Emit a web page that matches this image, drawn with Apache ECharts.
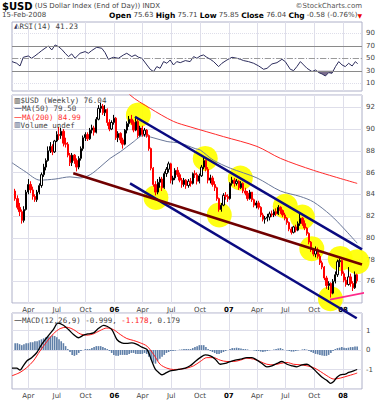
<!DOCTYPE html>
<html><head><meta charset="utf-8">
<script src="https://cdn.jsdelivr.net/npm/echarts@6/dist/echarts.min.js"></script>
<style>html,body{margin:0;padding:0;background:#fff}#c{width:385px;height:400px}</style>
</head><body><div id="c"></div>
<script>
// x = weeks since Fri 18-Feb-2005 (week 156 = 15-Feb-2008)
const tickWeeks = [6, 19, 32.14, 45.29, 58.14, 71.14, 84.29, 97.43, 110.29, 123.29, 136.43, 149.57];
const tickLabels = ['Apr','Jul','Oct','06','Apr','Jul','Oct','07','Apr','Jul','Oct','08'];

const priceOpen = [84.3,83.6,82.8,82.4,81.6,82.6,84.2,84.9,84.4,83.8,
83.5,84.2,84.8,85.8,86.5,87.1,88.0,88.4,87.9,88.9,
89.5,89.4,89.8,88.7,88.6,87.6,86.9,87.6,87.1,86.5,
87.3,88.2,89.2,89.5,89.1,89.9,90.1,89.7,90.9,91.9,
92.1,91.5,91.8,90.6,90.0,90.6,91.0,89.2,89.6,89.0,
88.6,89.9,90.5,90.9,90.6,89.9,90.7,89.4,90.1,89.5,
89.9,89.4,88.2,86.4,84.9,84.2,85.1,85.4,84.6,85.9,
86.3,86.8,85.3,85.5,86.2,85.8,85.3,84.9,85.3,84.8,
85.2,85.0,85.9,85.8,85.2,85.7,86.5,87.1,86.3,85.3,
85.5,84.9,84.6,83.6,82.6,83.0,83.9,83.8,83.6,85.0,
85.3,85.0,85.2,84.6,85.0,84.3,84.1,83.6,84.2,83.5,
83.0,83.2,82.8,82.1,81.7,81.8,81.9,82.2,82.1,82.4,
82.2,82.8,82.5,82.1,81.8,81.4,80.8,80.5,81.0,80.7,
81.3,81.8,81.3,80.9,80.4,79.6,78.9,78.5,78.9,78.3,
77.7,77.3,76.3,75.6,75.8,74.9,76.0,76.6,77.8,77.9,
76.7,76.1,75.7,76.4,75.8,75.4,76.6];
const priceHigh = [84.5,83.9,83.2,82.6,82.9,84.4,85.4,85.2,84.7,84.0,
84.4,85.0,86.0,86.8,87.3,88.4,88.8,88.6,89.0,89.8,
90.2,90.1,90.0,89.2,88.8,87.8,87.8,87.7,87.3,87.5,
88.4,89.4,89.7,89.7,90.1,90.4,90.3,91.1,92.2,92.4,
92.3,92.2,91.9,90.9,90.8,91.3,91.1,89.8,89.7,89.2,
90.0,90.7,91.2,91.3,90.8,91.0,90.9,90.3,90.3,90.1,
90.0,89.5,88.3,86.5,85.2,85.4,85.6,85.6,86.1,86.5,
87.0,86.9,85.7,86.4,86.5,86.0,85.5,85.5,85.4,85.4,
85.5,86.0,86.2,86.0,85.9,86.7,87.5,87.2,86.5,85.8,
85.7,85.2,84.7,83.7,83.2,84.1,84.2,84.0,85.1,85.6,
85.5,85.4,85.3,85.2,85.1,84.6,84.3,84.4,84.2,83.6,
83.4,83.4,82.9,82.3,82.0,82.2,82.4,82.5,82.6,82.7,
83.0,82.9,82.6,82.3,81.9,81.5,81.0,81.1,81.2,81.5,
82.2,81.9,81.6,81.0,80.5,79.7,79.0,79.2,79.1,78.5,
77.9,77.4,76.5,76.0,75.9,76.2,76.9,78.0,78.1,78.0,
76.9,76.4,77.3,76.7,76.0,76.9,76.7];
const priceLow = [83.4,82.6,82.0,81.3,81.4,82.5,84.0,84.1,83.5,83.3,
83.3,84.0,84.6,85.6,86.2,87.0,87.8,87.6,87.8,88.8,
89.0,89.1,88.4,88.3,87.4,86.6,86.6,86.8,86.1,86.3,
87.1,88.0,88.9,88.9,89.0,89.6,89.4,89.6,90.8,91.5,
91.3,91.2,90.3,89.8,89.9,90.4,89.0,88.8,88.7,88.2,
88.5,89.6,90.2,90.4,89.7,89.8,89.2,89.3,89.3,89.3,
89.2,88.0,86.2,84.7,83.9,84.0,84.6,84.3,84.5,85.6,
86.0,85.0,84.9,85.3,85.6,85.1,84.6,84.7,84.5,84.6,
84.7,84.9,85.5,84.9,85.0,85.6,86.3,86.1,85.0,85.0,
84.7,84.3,83.4,82.4,82.4,82.9,83.5,83.3,83.5,84.8,
84.7,84.8,84.4,84.5,84.1,83.9,83.4,83.5,83.3,82.8,
82.7,82.6,81.9,81.5,81.3,81.5,81.6,81.9,81.9,82.0,
82.1,82.2,81.9,81.6,81.2,80.6,80.3,80.4,80.5,80.6,
81.1,81.1,80.7,80.2,79.4,78.7,78.3,78.2,78.1,77.5,
77.1,76.1,75.3,75.2,74.5,74.8,75.8,76.4,77.3,76.5,
75.9,75.5,75.6,75.5,75.1,75.3,75.8];
const priceClose = [83.6,82.8,82.4,81.6,82.6,84.2,84.9,84.4,83.8,83.5,
84.2,84.8,85.8,86.5,87.1,88.0,88.4,87.9,88.9,89.5,
89.4,89.8,88.7,88.6,87.6,86.9,87.6,87.1,86.5,87.3,
88.2,89.2,89.5,89.1,89.9,90.1,89.7,90.9,91.9,92.1,
91.5,91.8,90.6,90.0,90.6,91.0,89.2,89.6,89.0,88.6,
89.9,90.5,90.9,90.6,89.9,90.7,89.4,90.1,89.5,89.9,
89.4,88.2,86.4,84.9,84.2,85.1,85.4,84.6,85.9,86.3,
86.8,85.3,85.5,86.2,85.8,85.3,84.9,85.3,84.8,85.2,
85.0,85.9,85.8,85.2,85.7,86.5,87.1,86.3,85.3,85.5,
84.9,84.6,83.6,82.6,83.0,83.9,83.8,83.6,85.0,85.3,
85.0,85.2,84.6,85.0,84.3,84.1,83.6,84.2,83.5,83.0,
83.2,82.8,82.1,81.7,81.8,81.9,82.2,82.1,82.4,82.2,
82.8,82.5,82.1,81.8,81.4,80.8,80.5,81.0,80.7,81.3,
81.8,81.3,80.9,80.4,79.6,78.9,78.5,78.9,78.3,77.7,
77.3,76.3,75.6,75.8,74.9,76.0,76.6,77.8,77.9,76.7,
76.1,75.7,76.4,75.8,75.4,76.6,76.04];

const ma50 = [[-1.45,86.9],[4.5,86.1],[11.3,85.3],[18.2,85.4],[25,85.6],[29.6,85.5],[34.2,85.8],[38.7,86.5],[43.3,87.3],[47.9,87.9],[53.8,88.8],[58.4,89.4],[62.9,89.2],[69.3,88.85],[75.3,88.7],[82.1,88.2],[84.4,88.07],[90.3,87.15],[98.1,86.4],[110.3,85.5],[121,84.3],[130,83.8],[136,83.3],[143.8,82.1],[149.7,80.9],[156,79.5]];
const ma200 = [[48,94.4],[52.4,93.13],[61.6,91.9],[72.2,90.7],[79.8,90.2],[95.05,89.3],[110.3,88.4],[121,87.3],[136.1,86.2],[156,85.0]];

const circleWeek = [56.2, 64.2, 86.7, 93.1, 102.7, 123.2, 131, 135.3, 148.3, 156, 143.8];
const circleValue = [91.3, 83.7, 87.3, 82.1, 85.5, 82.9, 81.9, 79.0, 78.1, 77.8, 74.4];

const trendUpperBlue = [[54.66,91.13],[158.2,78.93]];
const trendLowerBlue = [[52.4,85.0],[155.8,72.6]];
const trendMaroon = [[26.5,85.93],[158.2,77.54]];
const trendPink = [[143.6,74.3],[164.5,75.15]];

const rsi = [[-1.45,44.7],[0.7,42],[2.2,37.7],[3.7,51.6],[6,53.7],[7.5,50],[9,53.7],[10.6,58],[12.1,62.3],[13.6,66],[15.1,69.7],[16.7,63.3],[18.2,71.3],[19.7,68.7],[21.2,64.4],[22.8,58],[24.3,52.7],[25.8,57],[27.3,50],[29.6,58],[31.9,60.7],[33.4,58],[34.9,62.3],[37.2,67.6],[39.5,66],[41,59],[42.5,48.4],[44.8,51.6],[47.1,50],[49.4,55.3],[50.9,58],[53.2,52.7],[54.7,55.3],[56.3,51.6],[57.8,50],[60.1,39.3],[61.6,32.4],[63.1,28.7],[64.6,36.7],[66.1,34],[67.7,44.7],[69.2,42],[70.7,47.3],[72.2,39.3],[73.7,44.7],[75.3,43],[77.6,46.3],[79.8,44.7],[81.4,52.7],[82.9,50],[84.4,53.7],[85.9,55.3],[87.4,51.6],[89,48.4],[90.5,44.7],[92.8,36.7],[94.3,42],[96.6,47.3],[98.9,51.6],[101.2,50],[102.7,48.4],[104.2,46.3],[106.4,44.7],[108.8,42],[111.1,37.7],[113.3,32.4],[114.9,34],[117.1,40.9],[119.4,43],[121.7,48.4],[123.2,44.7],[125.5,32.4],[127,30.3],[128.5,36.7],[130.1,44.7],[131.6,39.3],[133.1,34],[135.4,28.7],[137,31.3],[138.5,27.1],[140,24.9],[141.5,21.7],[143,27.1],[144.5,26],[146.1,36.7],[147.6,44.7],[149.1,39.3],[150.6,36.7],[152.1,42],[153.7,37.7],[155.2,44.7],[156.2,41.2]];
const rsiOversold = [[137.7,30],[138.5,27.1],[140,24.9],[141.5,21.7],[143,27.1],[144.5,26],[145.2,30]];

const macd = [[-1.45,-0.93],[0.7,-0.93],[2.2,-1.03],[3.7,-0.81],[5.3,-0.56],[7.5,-0.39],[9.8,-0.14],[12.1,0.29],[14.4,0.63],[17.4,1.05],[19.5,1.38],[22,1.27],[24.3,1.05],[26.6,0.8],[28.9,0.63],[31.1,0.76],[33.4,0.83],[35.7,0.88],[37.9,1.1],[40.3,1.27],[41.8,1.22],[44.1,1.05],[46.4,0.54],[48.6,0.37],[50.9,0.34],[53.2,0.37],[55.5,0.29],[57.8,0.15],[60.1,0.03],[62.3,-0.56],[63.9,-0.98],[65.4,-1.15],[66.9,-1.27],[68.4,-1.2],[70.7,-1.07],[73,-1.03],[75.3,-0.98],[77.6,-0.93],[79.8,-0.81],[82.1,-0.59],[84.4,-0.39],[86.7,-0.25],[89,-0.3],[91.3,-0.47],[93.5,-0.73],[95.8,-0.69],[98.1,-0.59],[100.4,-0.52],[102.7,-0.47],[105.7,-0.39],[108,-0.39],[110.3,-0.52],[112.6,-0.69],[114.8,-0.86],[117.1,-0.81],[119.4,-0.69],[121.7,-0.59],[124,-0.73],[126.2,-0.81],[128.5,-0.86],[130.8,-0.76],[133.1,-0.73],[135.4,-0.9],[137.7,-1.15],[140,-1.4],[142.3,-1.57],[143.8,-1.71],[145.3,-1.61],[146.8,-1.4],[148.3,-1.27],[150.6,-1.24],[152.1,-1.15],[154.4,-1.07],[156,-1.0]];
const macdSignal = [[-1.45,-1.32],[2.2,-1.15],[5.3,-0.9],[8.3,-0.56],[11.3,-0.05],[14.4,0.42],[17.4,0.83],[20.5,1.1],[23.5,1.17],[26.6,1.05],[29.6,0.83],[32.6,0.76],[35.7,0.83],[38.7,1.0],[41.8,1.13],[44.8,1.05],[47.9,0.8],[50.9,0.59],[54,0.49],[57,0.37],[60.1,0.2],[63.1,-0.22],[66.1,-0.73],[69.2,-0.93],[72.2,-1.0],[75.3,-0.98],[78.3,-0.93],[81.4,-0.81],[84.4,-0.59],[87.4,-0.39],[90.5,-0.39],[93.5,-0.52],[96.6,-0.59],[99.6,-0.59],[102.7,-0.52],[105.7,-0.42],[108.8,-0.47],[111.8,-0.59],[114.8,-0.73],[117.9,-0.76],[120.9,-0.69],[124,-0.64],[127,-0.73],[130.1,-0.76],[133.1,-0.81],[136.1,-0.9],[139.2,-1.1],[142.2,-1.32],[145.3,-1.49],[148.3,-1.44],[151.4,-1.34],[154.4,-1.24],[156,-1.18]];
const macdHist = [0.35,0.35,0.3,0.25,0.3,0.35,0.35,0.4,0.4,0.45,
0.45,0.5,0.55,0.6,0.65,0.7,0.7,0.75,0.72,0.65,
0.55,0.45,0.35,0.2,0.05,-0.1,-0.25,-0.3,-0.25,-0.15,
-0.05,0.0,0.05,0.05,0.05,0.1,0.15,0.2,0.2,0.2,
0.15,0.1,0.05,-0.05,-0.15,-0.25,-0.3,-0.3,-0.25,-0.25,
-0.25,-0.25,-0.2,-0.15,-0.15,-0.2,-0.2,-0.2,-0.2,-0.15,
-0.2,-0.35,-0.5,-0.65,-0.7,-0.55,-0.45,-0.35,-0.25,-0.15,
-0.1,-0.05,-0.05,-0.03,0.0,0.02,0.03,0.05,0.05,0.05,
0.05,0.1,0.15,0.2,0.25,0.25,0.25,0.15,0.05,-0.05,
-0.1,-0.15,-0.2,-0.2,-0.15,-0.1,-0.05,0.0,0.05,0.1,
0.1,0.12,0.1,0.08,0.05,0.05,0.03,0.0,0.0,-0.03,
-0.05,-0.05,-0.08,-0.1,-0.08,-0.05,-0.02,0.0,0.03,0.05,
0.08,0.1,0.05,0.0,-0.03,-0.05,-0.08,-0.08,-0.05,-0.03,
0.0,0.03,0.05,0.02,-0.05,-0.1,-0.15,-0.2,-0.22,-0.25,
-0.28,-0.3,-0.3,-0.25,-0.15,-0.05,0.05,0.1,0.12,0.15,
0.12,0.1,0.12,0.15,0.15,0.18,0.18];

const X_MIN = -1.45, X_MAX = 158.2;
const GRID_COLOR = '#dedeea';
const FONT = 'DejaVu Sans';
const MONO = 'DejaVu Sans Mono';

const chart = echarts.init(document.getElementById('c'), null, {renderer: 'svg'});

function xLabel(v) {
  let best = 0;
  for (let i = 1; i < tickWeeks.length; i++) if (Math.abs(tickWeeks[i] - v) < Math.abs(tickWeeks[best] - v)) best = i;
  const t = tickLabels[best];
  return /^\d+$/.test(t) ? '{y|' + t + '}' : t;
}

const xAxes = [0, 1, 2].map(i => ({
  type: 'value', gridIndex: i, min: X_MIN, max: X_MAX,
  axisLine: {show: false},
  axisTick: {show: false, customValues: tickWeeks},
  axisLabel: {show: i > 0, customValues: tickWeeks, formatter: xLabel, fontSize: 7, color: '#444', fontFamily: FONT, margin: 3,
    rich: {y: {fontSize: 7, fontWeight: 'bold', color: '#000', fontFamily: FONT}}},
  splitLine: {show: true, lineStyle: {color: GRID_COLOR, width: 1}}
}));

const yLabel = {fontSize: 7, color: '#444', fontFamily: FONT, margin: 4};
const yAxes = [
  {type: 'value', gridIndex: 0, position: 'right', min: -2.3, max: 108,
    axisLine: {show: false}, axisTick: {show: false, customValues: [10, 30, 50, 70, 90]},
    axisLabel: Object.assign({customValues: [10, 30, 50, 70, 90]}, yLabel),
    splitLine: {show: true, lineStyle: {color: GRID_COLOR, type: 'dotted'}}},
  {type: 'value', gridIndex: 1, position: 'right', min: 74, max: 93.13, interval: 2,
    axisLine: {show: false}, axisTick: {show: false},
    axisLabel: Object.assign({showMinLabel: false, showMaxLabel: false}, yLabel),
    splitLine: {show: true, lineStyle: {color: GRID_COLOR}}},
  {type: 'value', gridIndex: 2, position: 'right', min: -2, max: 1.9, interval: 1,
    axisLine: {show: false}, axisTick: {show: false},
    axisLabel: Object.assign({showMinLabel: false, showMaxLabel: false}, yLabel),
    splitLine: {show: true, lineStyle: {color: GRID_COLOR}}}
];

const gridStyle = {show: true, borderColor: '#aeb0c8', borderWidth: 1, backgroundColor: '#fff', left: 12, right: 23};
const grids = [
  Object.assign({top: 22, height: 69}, gridStyle),
  Object.assign({top: 95, height: 208}, gridStyle),
  Object.assign({top: 313, height: 76}, gridStyle)
];

const candleData = priceClose.map((c, i) => [i, priceOpen[i], c, priceLow[i], priceHigh[i]]);
const circleData = circleWeek.map((w, i) => [w, circleValue[i]]);
const histData = macdHist.map((v, i) => [i, v]);

function trend(data, color, width, clip) {
  return {type: 'line', xAxisIndex: 1, yAxisIndex: 1, data, symbol: 'none', clip, z: 5,
    lineStyle: {color, width}, silent: true};
}

function tok(fam, size, color, weight) {
  return {fontFamily: fam, fontSize: size, fill: color, fontWeight: weight || 'normal'};
}
function label(x, y, text, rich, align) {
  return {type: 'text', x, y, z: 100, silent: true,
    style: {text, rich, align: align || 'left', verticalAlign: 'middle', fontFamily: FONT, fontSize: 7, fill: '#444'}};
}
const sm = tok(MONO, 7.5, '#444');
const graphics = [
  label(2, 6, '{b|$USD} {n|(US Dollar Index (End of Day)) INDX}', {b: tok(FONT, 10, '#000', 'bold'), n: tok(FONT, 7, '#444')}),
  label(362, 6, '{n|©StockCharts.com}', {n: tok(FONT, 7, '#555')}, 'right'),
  label(2, 15, '{n|15-Feb-2008}', {n: tok(FONT, 7, '#444')}),
  label(362, 15, '{k|Open} {v|75.63} {k|High} {v|75.71} {k|Low} {v|75.85} {k|Close} {v|76.04} {k|Chg} {v|-0.58 (-0.76%)}{r|▼}',
    {k: tok(FONT, 7.5, '#000', 'bold'), v: tok(FONT, 7, '#444'), r: tok(FONT, 6, '#e00')}, 'right'),
  label(14, 26, '{i|◭}{t|RSI(14) 41.23}', {i: tok(FONT, 7, '#335'), t: sm}),
  label(14, 100.5, '{i|▥}{t|$USD (Weekly) 76.04}', {i: tok(FONT, 7, '#222'), t: sm}),
  label(14, 108.8, '{d|—}{t|MA(50) 79.50}', {d: tok(FONT, 8, '#334477'), t: sm}),
  label(14, 117, '{d|—}{t|MA(200) 84.99}', {d: tok(FONT, 8, '#ff2020'), t: tok(MONO, 7.5, '#ff3030')}),
  label(14, 125.2, '{i|▥}{t|Volume undef}', {i: tok(FONT, 7, '#334477'), t: sm}),
  label(14, 320, '{d|—}{t|MACD(12,26,9) -0.999, }{r|-1.178}{t|, 0.179}', {d: tok(FONT, 8, '#333'), t: sm, r: tok(MONO, 7.5, '#ff2020')})
];

const option = {
  animation: false,
  backgroundColor: '#fff',
  graphic: graphics,
  grid: grids,
  xAxis: xAxes,
  yAxis: yAxes,
  series: [
    {type: 'line', xAxisIndex: 0, yAxisIndex: 0, data: rsi, symbol: 'none', z: 4,
      lineStyle: {color: '#2c2c5c', width: 1},
      markLine: {silent: true, symbol: 'none', label: {show: false},
        data: [{yAxis: 70, lineStyle: {color: '#8a8a8a', width: 1, type: 'solid'}},
               {yAxis: 30, lineStyle: {color: '#8a8a8a', width: 1, type: 'solid'}},
               {yAxis: 50, lineStyle: {color: '#9a9a9a', width: 1, type: [6, 2, 1, 2]}}]}},
    {type: 'line', xAxisIndex: 0, yAxisIndex: 0, data: rsiOversold, symbol: 'none', z: 3,
      lineStyle: {width: 0}, areaStyle: {origin: 30, color: '#7a6c8c', opacity: 1}},
    {type: 'scatter', xAxisIndex: 1, yAxisIndex: 1, data: circleData, symbol: 'circle', symbolSize: 25, z: 1,
      itemStyle: {color: '#ffff00', opacity: 0.92}, silent: true},
    {type: 'line', xAxisIndex: 1, yAxisIndex: 1, data: ma50, symbol: 'none', smooth: 0.3, z: 2,
      lineStyle: {color: '#6a7899', width: 1}},
    {type: 'line', xAxisIndex: 1, yAxisIndex: 1, data: ma200, symbol: 'none', smooth: 0.3, z: 2,
      lineStyle: {color: '#ff2a2a', width: 1}},
    {type: 'candlestick', xAxisIndex: 1, yAxisIndex: 1, data: candleData, barWidth: 1.8, z: 3,
      itemStyle: {color: '#ffffff', color0: '#ff0000', borderColor: '#000000', borderColor0: '#ff0000', borderWidth: 1}},
    trend(trendUpperBlue, '#0a0a80', 2.5, false),
    trend(trendLowerBlue, '#0a0a80', 2.5, false),
    trend(trendMaroon, '#700000', 2.5, false),
    trend(trendPink, '#ff2a8a', 1.8, false),
    {type: 'bar', xAxisIndex: 2, yAxisIndex: 2, data: histData, barWidth: 1.6, z: 2,
      itemStyle: {color: '#5f7fa8'}},
    {type: 'line', xAxisIndex: 2, yAxisIndex: 2, data: macdSignal, symbol: 'none', smooth: 0.3, z: 3,
      lineStyle: {color: '#ff1a1a', width: 1}},
    {type: 'line', xAxisIndex: 2, yAxisIndex: 2, data: macd, symbol: 'none', smooth: 0.3, z: 4,
      lineStyle: {color: '#000000', width: 1.3}}
  ]
};
chart.setOption(option);
</script>
</body></html>
